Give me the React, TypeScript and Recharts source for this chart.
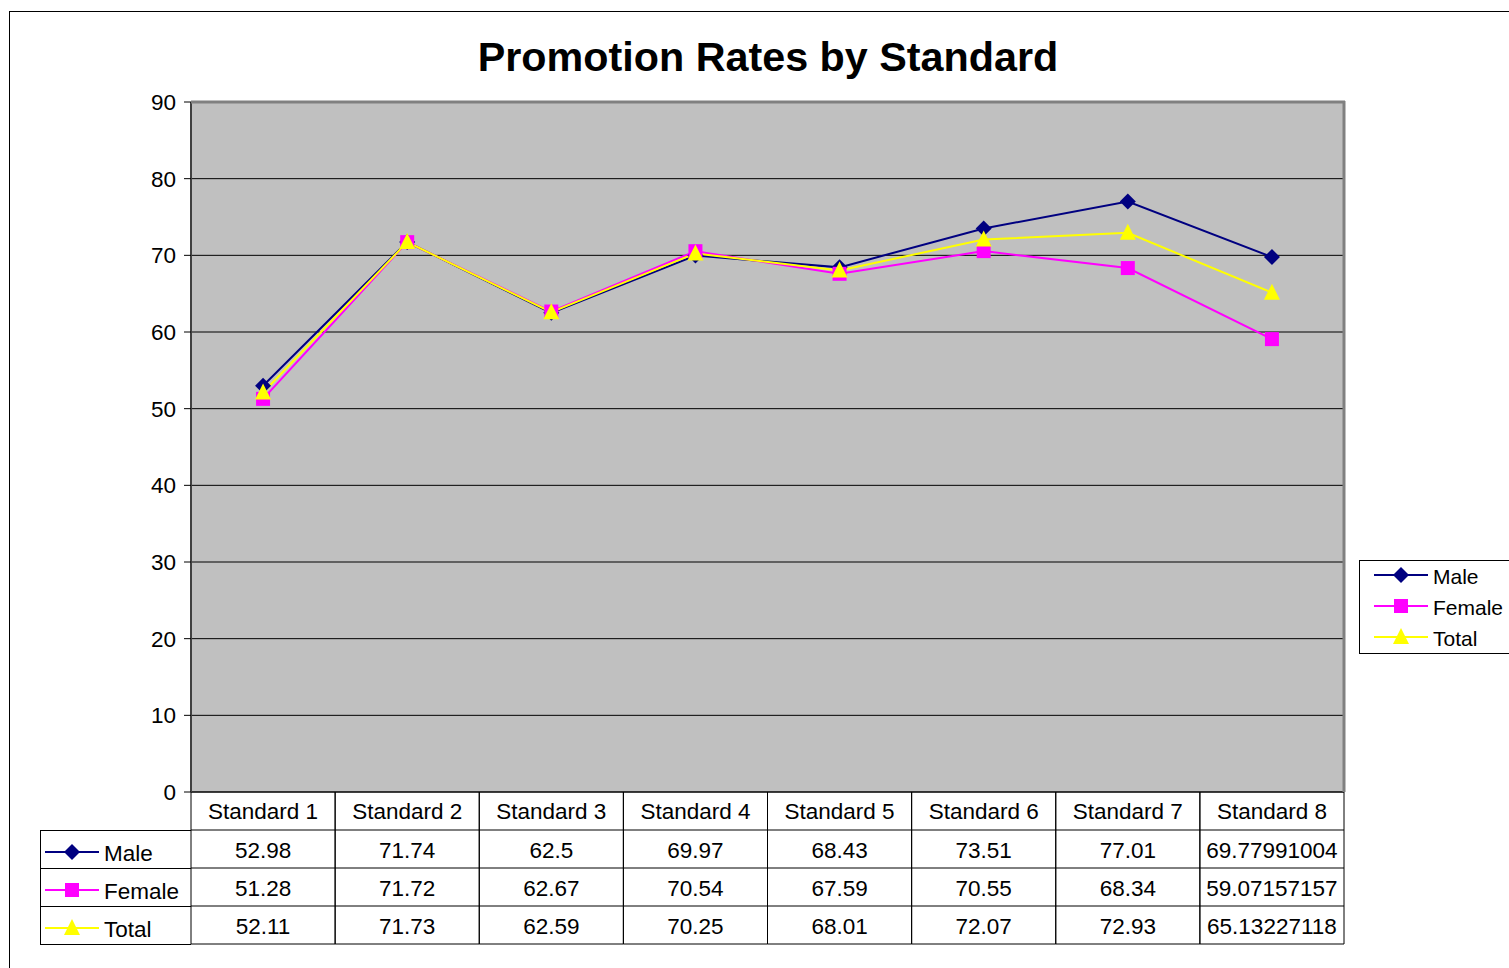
import { LineChart, Line, XAxis, YAxis, CartesianGrid } from "recharts";

const categories = [
  "Standard 1",
  "Standard 2",
  "Standard 3",
  "Standard 4",
  "Standard 5",
  "Standard 6",
  "Standard 7",
  "Standard 8",
];
const male = [52.98, 71.74, 62.5, 69.97, 68.43, 73.51, 77.01, 69.77991004];
const female = [51.28, 71.72, 62.67, 70.54, 67.59, 70.55, 68.34, 59.07157157];
const total = [52.11, 71.73, 62.59, 70.25, 68.01, 72.07, 72.93, 65.13227118];
const yTicks = [0, 10, 20, 30, 40, 50, 60, 70, 80, 90];

const seriesList = [
  { name: "Male", key: "Male", values: male, color: "#000080", shape: "diamond" },
  { name: "Female", key: "Female", values: female, color: "#FF00FF", shape: "square" },
  { name: "Total", key: "Total", values: total, color: "#FFFF00", shape: "triangle" },
];

const data = categories.map((c, i) => ({
  name: c,
  Male: male[i],
  Female: female[i],
  Total: total[i],
}));

const FONT = "'Liberation Sans', Arial, sans-serif";
const PLOT_LEFT = 191;
const PLOT_RIGHT = 1344;
const COL_W = (PLOT_RIGHT - PLOT_LEFT) / categories.length;
const ROW_H = 38;
const TXT = 22.5;

function Marker({ shape, cx, cy, color }: any) {
  if (shape === "diamond") {
    const r = 8;
    return (
      <path
        d={`M${cx},${cy - r}L${cx + r},${cy}L${cx},${cy + r}L${cx - r},${cy}Z`}
        fill={color}
      />
    );
  }
  if (shape === "square") {
    const r = 7;
    return <rect x={cx - r} y={cy - r} width={r * 2} height={r * 2} fill={color} />;
  }
  const r = 8;
  return (
    <path
      d={`M${cx},${cy - r - 1}L${cx + r},${cy + r - 1}L${cx - r},${cy + r - 1}Z`}
      fill={color}
    />
  );
}

function makeDot(shape: string, color: string) {
  return (props: any) => {
    const { cx, cy, index } = props;
    if (cx == null || cy == null) return <g key={index} />;
    return <Marker key={index} shape={shape} cx={cx} cy={cy} color={color} />;
  };
}

// x-axis tick draws one column of the data table
function TableColumn(props: any) {
  const { x, y, payload } = props;
  const i = payload.index;
  const l = x - COL_W / 2;
  const r = x + COL_W / 2;
  return (
    <g fontFamily={FONT} fontSize={TXT} fill="#000">
      <line x1={l} x2={l} y1={y} y2={y + ROW_H * 4} stroke="#000" />
      <line x1={r} x2={r} y1={y} y2={y + ROW_H * 4} stroke="#000" />
      {[1, 2, 3, 4].map((k) => (
        <line key={k} x1={l} x2={r} y1={y + ROW_H * k} y2={y + ROW_H * k} stroke="#000" />
      ))}
      <text x={x} y={y + 19} textAnchor="middle" dominantBaseline="central">
        {payload.value}
      </text>
      {seriesList.map((s, k) => (
        <text
          key={s.key}
          x={x}
          y={y + ROW_H * (k + 1) + 20}
          textAnchor="middle"
          dominantBaseline="central"
        >
          {String(s.values[i])}
        </text>
      ))}
    </g>
  );
}

export default function App() {
  return (
    <div
      style={{
        position: "absolute",
        left: 0,
        top: 0,
        width: 1509,
        height: 968,
        background: "#fff",
        fontFamily: FONT,
      }}
    >
      <LineChart
        width={1509}
        height={968}
        data={data}
        margin={{ top: 102, right: 1509 - PLOT_RIGHT, bottom: 0, left: 0 }}
      >
        <CartesianGrid
          vertical={false}
          stroke="#000"
          fill="#C0C0C0"
          fillOpacity={1}
        />
        <XAxis
          dataKey="name"
          height={176}
          padding={{ left: COL_W / 2, right: COL_W / 2 }}
          tickLine={false}
          tickSize={0}
          tickMargin={0}
          axisLine={{ stroke: "#000", strokeWidth: 1 }}
          tick={<TableColumn />}
          interval={0}
        />
        <YAxis
          width={PLOT_LEFT}
          domain={[0, 90]}
          ticks={yTicks}
          interval={0}
          tickSize={7}
          tickMargin={8}
          tickLine={{ stroke: "#000" }}
          axisLine={{ stroke: "#404040", strokeWidth: 2 }}
          tick={{ fill: "#000", fontSize: TXT, fontFamily: FONT }}
        />
        {seriesList.map((s) => (
          <Line
            key={s.key}
            type="linear"
            dataKey={s.key}
            name={s.name}
            stroke={s.color}
            strokeWidth={2}
            dot={makeDot(s.shape, s.color)}
            activeDot={false}
            isAnimationActive={false}
          />
        ))}
      </LineChart>
      <svg
        width={1509}
        height={968}
        style={{ position: "absolute", left: 0, top: 0, pointerEvents: "none" }}
      >
        {/* outer chart border */}
        <rect x={9.5} y={11.5} width={1510} height={970} fill="none" stroke="#000" />
        {/* plot top/right border */}
        <line x1={PLOT_LEFT} x2={PLOT_RIGHT + 1} y1={102} y2={102} stroke="#808080" strokeWidth={3} />
        <line x1={PLOT_RIGHT} x2={PLOT_RIGHT} y1={101} y2={792} stroke="#808080" strokeWidth={3} />
        <text
          x={768}
          y={57}
          textAnchor="middle"
          dominantBaseline="central"
          fontFamily={FONT}
          fontWeight="bold"
          fontSize={41.3}
          fill="#000"
        >
          Promotion Rates by Standard
        </text>
        {/* table legend column */}
        <line x1={40.5} x2={40.5} y1={830} y2={944} stroke="#000" />
        {[830, 868, 906, 944].map((yy) => (
          <line key={yy} x1={40} x2={PLOT_LEFT} y1={yy + 0.5} y2={yy + 0.5} stroke="#000" />
        ))}
        {seriesList.map((s, k) => {
          const cy = 830 + ROW_H * k + 22;
          return (
            <g key={s.key}>
              <line x1={45} x2={99} y1={cy} y2={cy} stroke={s.color} strokeWidth={2} />
              <Marker shape={s.shape} cx={72} cy={cy} color={s.color} />
              <text x={104} y={cy + 1} dominantBaseline="central" fontFamily={FONT} fontSize={TXT} fill="#000">
                {s.name}
              </text>
            </g>
          );
        })}
        {/* legend */}
        <rect x={1359.5} y={560.5} width={160} height={93} fill="#fff" stroke="#000" />
        {seriesList.map((s, k) => {
          const cy = 575 + 31 * k;
          return (
            <g key={s.key}>
              <line x1={1374} x2={1428} y1={cy} y2={cy} stroke={s.color} strokeWidth={2} />
              <Marker shape={s.shape} cx={1401} cy={cy} color={s.color} />
              <text x={1433} y={cy + 1} dominantBaseline="central" fontFamily={FONT} fontSize={21} fill="#000">
                {s.name}
              </text>
            </g>
          );
        })}
      </svg>
    </div>
  );
}
